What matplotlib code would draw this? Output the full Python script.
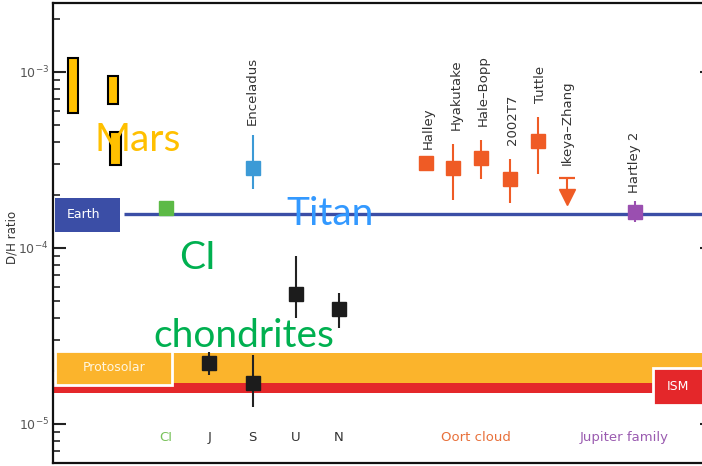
import numpy as np
import matplotlib
matplotlib.use("Agg")
import matplotlib.pyplot as plt
from matplotlib.patches import Rectangle

# D/H ratios of solar system bodies
mars_low = [5.85e-4, 6.6e-4, 2.96e-4]
mars_high = [1.20e-3, 9.5e-4, 4.56e-4]
mars_x = [-1.15, -0.22, -0.17]

earth_dh = 1.56e-4
ci_dh = 1.69e-4

planets = ["J", "S", "U", "N"]
planet_dh = [2.22e-5, 1.71e-5, 5.48e-5, 4.5e-5]
planet_lo = [1.90e-5, 1.25e-5, 4.0e-5, 3.5e-5]
planet_hi = [2.56e-5, 2.46e-5, 9.0e-5, 5.55e-5]

enceladus_dh = 2.85e-4
enceladus_lo = 2.16e-4
enceladus_hi = 4.39e-4

comets = ["Halley", "Hyakutake", "Hale\u2013Bopp", "2002T7", "Tuttle"]
comet_dh = [3.04e-4, 2.85e-4, 3.24e-4, 2.47e-4, 4.06e-4]
comet_lo = [3.04e-4, 1.87e-4, 2.47e-4, 1.80e-4, 2.63e-4]
comet_hi = [3.04e-4, 3.9e-4, 4.11e-4, 3.2e-4, 5.55e-4]
comet_x = [7.0, 7.64, 8.28, 8.95, 9.6]

ikeya_limit = 2.5e-4

hartley_dh = 1.6e-4
hartley_lo = 1.40e-4
hartley_hi = 1.85e-4

protosolar_lo = 1.71e-5
protosolar_hi = 2.53e-5
ism_lo = 1.50e-5
ism_hi = 1.71e-5

C_EARTH = "#3b4ea6"
C_CI = "#5cba46"
C_ENC = "#3c9ad6"
C_COMET = "#ef5b25"
C_JFC = "#9a4fb0"
C_PROTO = "#fbb42c"
C_ISM = "#e4272a"
C_MARS = "#ffc000"
C_TEXT = "#333333"


def main():
    fig = plt.figure(figsize=(7.02, 4.66), dpi=100)
    ax = fig.add_axes([53 / 702, 3 / 466, 659 / 702, 460 / 466])
    ax.set_yscale("log")
    ax.set_ylim(6.0e-6, 2.466e-3)
    ax.set_xlim(-1.613, 13.624)

    for s in ax.spines.values():
        s.set_linewidth(1.6)
        s.set_color("#111111")

    ax.set_xticks([])
    ax.tick_params(axis="y", which="both", direction="in", left=True, right=True,
                   color="#222222", labelsize=9, labelcolor="#555555", pad=3)
    ax.tick_params(axis="y", which="major", length=9, width=1.5)
    ax.tick_params(axis="y", which="minor", length=5, width=1.2)
    ax.set_ylabel("D/H ratio", fontsize=8.5, color=C_TEXT)
    ax.yaxis.set_label_coords(-0.052, 0.49)

    # protosolar and ISM bands
    ax.axhspan(protosolar_lo, protosolar_hi, color=C_PROTO, lw=0, zorder=1)
    ax.axhspan(ism_lo, ism_hi, color=C_ISM, lw=0, zorder=1)
    ax.add_patch(Rectangle((-1.566, 1.67e-5), 2.705, 2.60e-5 - 1.67e-5,
                           facecolor=C_PROTO, edgecolor="white", lw=2, zorder=2))
    ax.text(-0.21, 2.08e-5, "Protosolar", color="#fff6e0", fontsize=9,
            ha="center", va="center", zorder=3)
    ax.add_patch(Rectangle((12.26, 1.28e-5), 2.0, 2.08e-5 - 1.28e-5,
                           facecolor=C_ISM, edgecolor="white", lw=2, zorder=2))
    ax.text(12.83, 1.63e-5, "ISM", color="white", fontsize=9,
            ha="center", va="center", zorder=3)

    # Earth reference line
    ax.hlines(earth_dh, 0.03, 14, color=C_EARTH, lw=2.4, zorder=2)
    ax.add_patch(Rectangle((-1.566, 1.23e-4), 1.5, 1.92e-4 - 1.23e-4,
                           facecolor=C_EARTH, edgecolor="none", zorder=2))
    ax.text(-0.9, 1.55e-4, "Earth", color="white", fontsize=9,
            ha="center", va="center", zorder=3)

    # Mars ranges
    for x, lo, hi in zip(mars_x, mars_low, mars_high):
        ax.add_patch(Rectangle((x - 0.12, lo), 0.24, hi - lo, facecolor=C_MARS,
                               edgecolor="black", lw=1.5, zorder=3))

    # CI chondrites
    ax.plot(1, ci_dh, "s", color=C_CI, ms=10, zorder=4)

    # giant planets
    px = [2, 3, 4, 5]
    for x, v, lo, hi in zip(px, planet_dh, planet_lo, planet_hi):
        ax.vlines(x, lo, hi, color="#222222", lw=1.5, zorder=4)
        ax.plot(x, v, "s", color="#1c1c1c", ms=10, zorder=5)

    # Enceladus
    ax.vlines(3, enceladus_lo, enceladus_hi, color=C_ENC, lw=1.5, zorder=4)
    ax.plot(3, enceladus_dh, "s", color=C_ENC, ms=10, zorder=5)
    ax.annotate("Enceladus", (3, enceladus_hi), xytext=(0, 7), textcoords="offset points",
                rotation=90, ha="center", va="bottom", fontsize=9.5, color=C_TEXT)

    # Oort cloud comets
    for name, x, v, lo, hi in zip(comets, comet_x, comet_dh, comet_lo, comet_hi):
        ax.vlines(x, lo, hi, color=C_COMET, lw=1.5, zorder=4)
        ax.plot(x, v, "s", color=C_COMET, ms=10, zorder=5)
        ax.annotate(name, (x, max(hi, v)), xytext=(2, 10), textcoords="offset points",
                    rotation=90, ha="center", va="bottom", fontsize=9.5, color=C_TEXT)

    # Ikeya-Zhang upper limit
    ax.plot(10.27, ikeya_limit, "_", color=C_COMET, ms=12, mew=1.6, zorder=4)
    ax.vlines(10.27, ikeya_limit / 1.2, ikeya_limit, color=C_COMET, lw=1.5, zorder=4)
    ax.plot(10.27, ikeya_limit / 1.28, "v", color=C_COMET, ms=11, zorder=5)
    ax.annotate("Ikeya\u2013Zhang", (10.27, ikeya_limit), xytext=(0, 9),
                textcoords="offset points", rotation=90, ha="center", va="bottom",
                fontsize=9.5, color=C_TEXT)

    # Jupiter family comet
    ax.vlines(11.84, hartley_lo, hartley_hi, color=C_JFC, lw=1.5, zorder=4)
    ax.plot(11.84, hartley_dh, "s", color=C_JFC, ms=10, zorder=5)
    ax.annotate("Hartley 2", (11.84, hartley_hi), xytext=(0, 6), textcoords="offset points",
                rotation=90, ha="center", va="bottom", fontsize=9.5, color=C_TEXT)

    # group labels along the bottom
    ylab = 8.4e-6
    ax.text(1, ylab, "CI", color="#78c25a", fontsize=9.5, ha="center", va="center")
    for x, name in zip(px, planets):
        ax.text(x, ylab, name, color=C_TEXT, fontsize=9.5, ha="center", va="center")
    ax.text(8.17, ylab, "Oort cloud", color="#e8703a", fontsize=9.5, ha="center", va="center")
    ax.text(11.59, ylab, "Jupiter family", color="#9a5bb0", fontsize=9.5,
            ha="center", va="center")

    # large overlay captions
    big = dict(family="Lato", fontsize=28, ha="center", va="center", zorder=6)
    ax.text(0.35, 4.12e-4, "Mars", color=C_MARS, **big)
    ax.text(4.79, 1.56e-4, "Titan", color="#3399ff", **big)
    ax.text(1.72, 8.8e-5, "CI", color="#00b050", **big)
    ax.text(2.8, 3.15e-5, "chondrites", color="#00b050", **big)

    fig.savefig("out.png", dpi=100)


if __name__ == "__main__":
    main()
